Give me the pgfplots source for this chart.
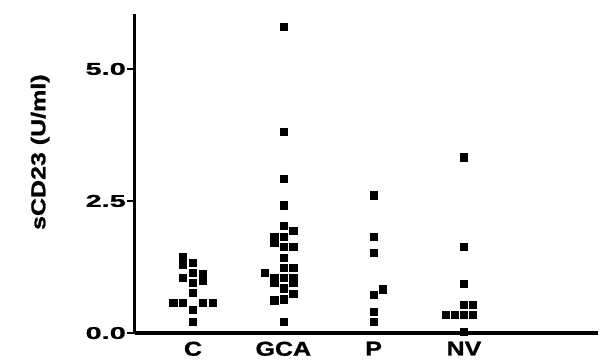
\documentclass[border=0pt]{standalone}
\usepackage{fontspec}
\setmainfont{Liberation Sans}
\newfontfamily\tickfont[FakeStretch=1.7,FakeBold=1.2]{Liberation Sans}
\newfontfamily\catfont[FakeStretch=1.25,FakeBold=1.2]{Liberation Sans}
\newfontfamily\labfont[FakeStretch=1.25,FakeBold=1.2]{Liberation Sans}
\usepackage{pgfplots}
\pgfplotsset{compat=1.18}
\begin{document}
\begin{tikzpicture}
\path[use as bounding box] (-135bp,-27bp) rectangle (469bp,333bp);
\begin{axis}[
  scale only axis,
  width=463bp, height=319bp,
  xmin=0.358, xmax=5.484,
  ymin=0, ymax=6.04,
  axis x line=bottom, axis y line=left,
  axis line style={line width=3bp, -},
  xtick={1,2,3,4},
  xticklabels={C,GCA,P,NV},
  ytick={0,2.5,5},
  /pgf/number format/fixed,
  /pgf/number format/fixed zerofill,
  /pgf/number format/precision=1,
  /pgf/number format/assume math mode=true,
  yticklabel style={font=\tickfont\bfseries\fontsize{17bp}{20bp}\selectfont, inner sep=1bp},
  xticklabel style={font=\catfont\bfseries\fontsize{20bp}{22bp}\selectfont, inner sep=0.5bp},
  x tick style={draw=none},
  y tick style={line width=1.8bp, black},
  tick align=outside,
  major tick length=8bp,
  ylabel={sCD23 (U/ml)},
  ylabel style={font=\labfont\bfseries\fontsize{20bp}{24bp}\selectfont, at={(axis description cs:-0.205,0.567)}, anchor=center},
  clip=false,
]
\addplot[only marks, mark=square*, mark size=3.6bp, black] coordinates {
(0.89,1.44) (0.89,1.29) (1.0,1.33) (0.89,1.04) (1.0,1.14) (1.11,1.12) (1.11,1.00) (1.0,0.95) (1.0,0.76) (0.78,0.57) (0.89,0.57) (1.0,0.44) (1.11,0.57) (1.22,0.57) (1.0,0.21)
};
\addplot[only marks, mark=square*, mark size=3.6bp, black] coordinates {
(2,5.80) (2,3.81) (2,2.92) (2,2.42) (2,2.03) (2.11,1.93) (1.9,1.82) (1.9,1.72) (2,1.82) (2,1.63) (2.11,1.63) (2,1.42) (2,1.23) (2.11,1.23) (1.79,1.14) (1.9,1.04) (1.9,0.95) (2,1.04) (2.11,1.04) (2.11,0.95) (2,0.85) (2.11,0.74) (1.9,0.62) (2,0.64) (2,0.21)
};
\addplot[only marks, mark=square*, mark size=3.6bp, black] coordinates {
(3,2.61) (3,1.82) (3,1.52) (3.1,0.83) (3,0.72) (3,0.40) (3,0.21)
};
\addplot[only marks, mark=square*, mark size=3.6bp, black] coordinates {
(4,3.33) (4,1.63) (4,0.93) (4,0.53) (4.1,0.53) (3.8,0.34) (3.9,0.34) (4,0.34) (4.1,0.34) (4,0.02)
};
\end{axis}
\end{tikzpicture}
\end{document}
